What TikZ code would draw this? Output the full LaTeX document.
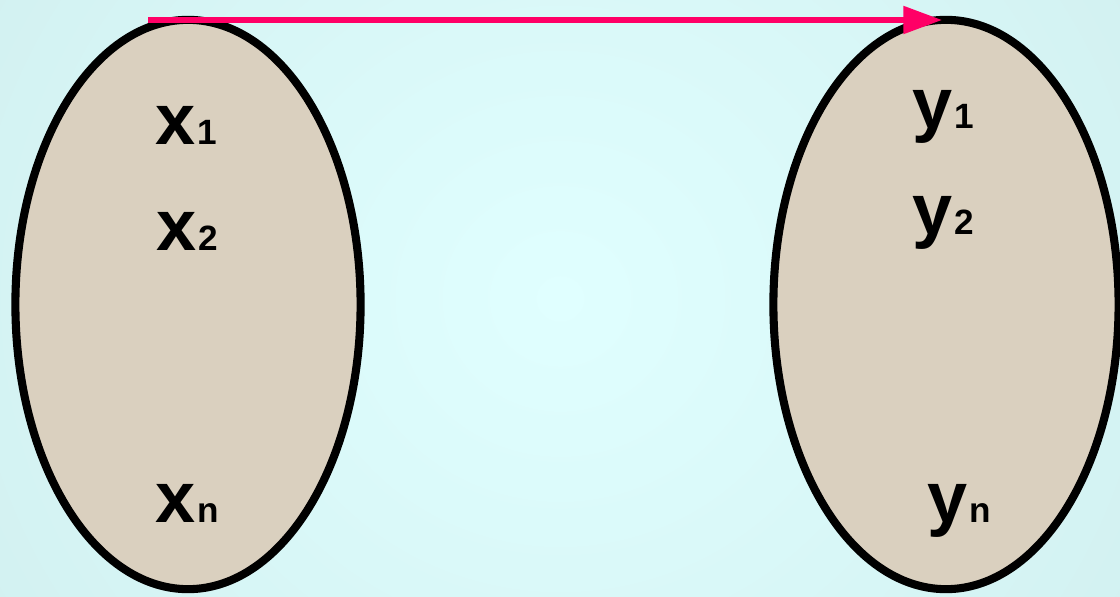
\documentclass[tikz,border=0pt]{standalone}
\usepackage{fontspec}
\setmainfont{Liberation Sans}
\usetikzlibrary{arrows.meta,shapes.geometric}
\definecolor{bgin}{HTML}{E0FFFF}
\definecolor{bgout}{HTML}{C2E0E0}
\definecolor{sand}{HTML}{DAD0BF}
\definecolor{mappink}{HTML}{FF0066}

\newcommand{\subfont}{\fontsize{10}{11}\selectfont\bfseries}

\begin{document}
\begin{tikzpicture}[x=0.01cm,y=-0.01cm,>=Latex,
    setshape/.style={ellipse,draw=black,line width=2.3pt,fill=sand,
      minimum width=3.45cm,minimum height=5.69cm,inner sep=0pt},
    elem/.style={anchor=base west,inner sep=0pt,
      font=\fontsize{20.5}{22}\selectfont\bfseries}]
  \useasboundingbox (0,0) rectangle (1120,597);
  \begin{scope}
    \clip (0,0) rectangle (1120,597);
    \fill[bgin] (0,0) rectangle (1120,597);
    \shade[inner color=bgin,outer color=bgout] (-900,-1100) rectangle (2020,1697);
    % the two sets
    \node[setshape] (setX) at (188,304.5) {};
    \node[setshape] (setY) at (946,304.5) {};
  \end{scope}
  % elements
  \foreach \nm/\lt/\sb/\px/\py in {x1/x/1/155/145,x2/x/2/156/250,xn/x/n/155/522,
      y1/y/1/912/128,y2/y/2/912/235,yn/y/n/927/522}{
    \node[elem] (\nm) at (\px,\py) {\lt\kern0.6pt{\subfont\sb}};
  }
  % mapping arrow
  \coordinate (from) at (148,20);
  \coordinate (tip) at (942,20);
  \draw[mappink,line width=1.45pt,-{Triangle[length=11pt,width=7.7pt]}] (from) -- (tip);
\end{tikzpicture}
\end{document}
